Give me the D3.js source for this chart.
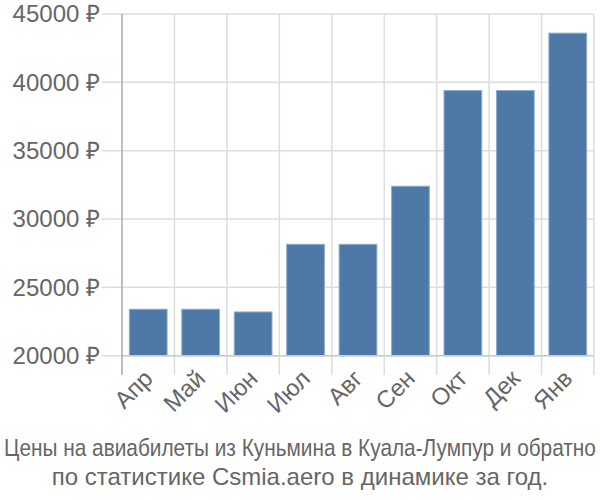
<!DOCTYPE html>
<html><head><meta charset="utf-8">
<script src="https://cdn.jsdelivr.net/npm/d3@7"></script>
<style>body{margin:0;background:#fff}svg{display:block}</style>
</head><body><svg id="c" width="600" height="500"></svg>
<script>
const categories = ["Апр","Май","Июн","Июл","Авг","Сен","Окт","Дек","Янв"];
const values = [23400,23400,23200,28150,28150,32400,39400,39400,43600];
const yTicks = [20000,25000,30000,35000,40000,45000];
const titleLines = ["Цены на авиабилеты из Куньмина в Куала-Лумпур и обратно","по статистике Csmia.aero в динамике за год."];

(function(){
const svg = d3.select("#c");
const FF = "Liberation Sans, Arial, sans-serif";
const pL = 122, pR = 594, pT = 14, pB = 355.7;
const x = d3.scaleBand().domain(categories).range([pL, pR]).paddingInner(0.28).paddingOuter(0.14);
const xb = d3.scaleBand().domain(categories).range([pL, pR]);
const y = d3.scaleLinear().domain([20000, 45000]).range([pB, pT]);

svg.append("g").selectAll("line").data(yTicks).join("line")
  .attr("x1", 102).attr("x2", pR).attr("y1", d => y(d)).attr("y2", d => y(d))
  .attr("stroke", "#ddd").attr("stroke-width", 1.5);
const bounds = categories.map(c => xb(c)).concat([pR]);
svg.append("g").selectAll("line").data(bounds.slice(1)).join("line")
  .attr("x1", d => d).attr("x2", d => d).attr("y1", pT).attr("y2", 375)
  .attr("stroke", "#ddd").attr("stroke-width", 1.5);
svg.append("g").selectAll("rect").data(values).join("rect")
  .attr("x", (d, i) => x(categories[i])).attr("width", x.bandwidth())
  .attr("y", d => y(d)).attr("height", d => y(20000) - y(d))
  .attr("fill", "#4e79a7").attr("stroke", "#8fadcc").attr("stroke-width", 1);
svg.append("line").attr("x1", pL).attr("x2", pR).attr("y1", pB).attr("y2", pB)
  .attr("stroke", "#ccc").attr("stroke-width", 1.5);
svg.append("line").attr("x1", pL).attr("x2", pL).attr("y1", pT).attr("y2", 375)
  .attr("stroke", "#aaa").attr("stroke-width", 1.5);
svg.append("g").selectAll("text").data(yTicks).join("text")
  .attr("x", 100).attr("y", d => y(d)).attr("dy", "0.35em")
  .attr("text-anchor", "end").attr("fill", "#666")
  .attr("font-family", FF).attr("font-size", 24)
  .text(d => d + " ₽");
svg.append("g").selectAll("text").data(categories).join("text")
  .attr("transform", d => `translate(${x(d) + x.bandwidth()/2 + 6},${380}) rotate(-45)`)
  .attr("text-anchor", "end").attr("fill", "#666")
  .attr("font-family", FF).attr("font-size", 24)
  .text(d => d);
const t1 = svg.append("text").attr("x", 0).attr("y", 0).attr("text-anchor", "middle")
  .attr("fill", "#666").attr("font-family", FF).attr("font-size", 24).text(titleLines[0]);
const w1 = t1.node().getComputedTextLength();
const sx = Math.min(1, 592 / w1);
t1.attr("transform", `translate(300,456) scale(${sx},1)`);
svg.append("text").attr("x", 300).attr("y", 485).attr("text-anchor", "middle")
  .attr("fill", "#666")
  .attr("font-family", FF).attr("font-size", 24).text(titleLines[1]);
})();
</script></body></html>
